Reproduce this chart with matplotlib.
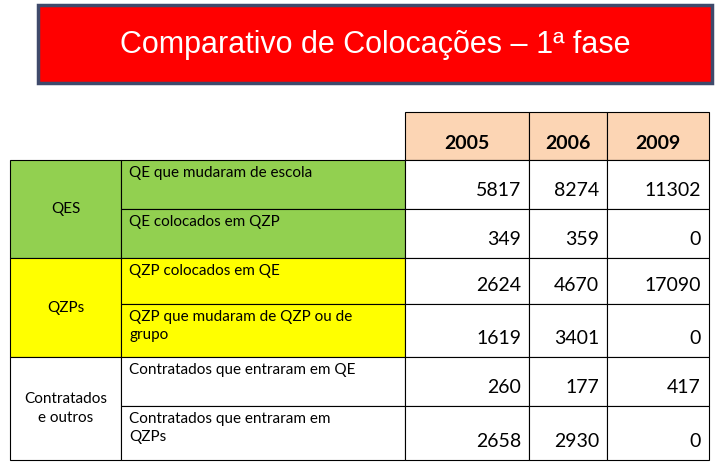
import matplotlib.pyplot as plt
from matplotlib.patches import Rectangle

years = ["2005", "2006", "2009"]
groups = ["QES", "QZPs", "Contratados\ne outros"]
group_colors = ["#92D050", "#FFFF00", "#FFFFFF"]
rows = [
    "QE que mudaram de escola",
    "QE colocados em QZP",
    "QZP colocados em QE",
    "QZP que mudaram de QZP ou de\ngrupo",
    "Contratados que entraram em QE",
    "Contratados que entraram em\nQZPs",
]
values = [
    [5817, 8274, 11302],
    [349, 359, 0],
    [2624, 4670, 17090],
    [1619, 3401, 0],
    [260, 177, 417],
    [2658, 2930, 0],
]

fig = plt.figure(figsize=(7.22, 4.65), dpi=100)
ax = fig.add_axes([0, 0, 1, 1])
ax.set_xlim(0, 722)
ax.set_ylim(465, 0)
ax.axis("off")

# title box
ax.add_patch(Rectangle((38, 5), 674, 78, facecolor="#FF0000", edgecolor="#3F4A6B", lw=2.5))
ax.text(375, 45, "Comparativo de Colocações – 1ª fase", color="white", fontsize=22,
        ha="center", va="center", family="Liberation Sans")

cols = [10, 121, 405, 529, 607, 709]
row_y = [112, 160, 209, 258, 304, 357, 406, 460]
font = "Lato"

# header
for j, y in enumerate(years):
    x0, x1 = cols[j + 2], cols[j + 3]
    ax.add_patch(Rectangle((x0, row_y[0]), x1 - x0, row_y[1] - row_y[0],
                           facecolor="#FCD5B4", edgecolor="black", lw=0.8))
    ax.text((x0 + x1) / 2, 143, y, ha="center", va="center", fontsize=14,
            fontweight="bold", family=font)

for g in range(3):
    y0, y1 = row_y[1 + 2 * g], row_y[3 + 2 * g]
    ax.add_patch(Rectangle((cols[0], y0), cols[1] - cols[0], y1 - y0,
                           facecolor=group_colors[g], edgecolor="black", lw=0.8))
    ax.text((cols[0] + cols[1]) / 2, (y0 + y1) / 2, groups[g], ha="center",
            va="center", fontsize=11, family=font, linespacing=1.5)
    for k in range(2):
        i = 2 * g + k
        ya, yb = row_y[1 + i], row_y[2 + i]
        ax.add_patch(Rectangle((cols[1], ya), cols[2] - cols[1], yb - ya,
                               facecolor=group_colors[g], edgecolor="black", lw=0.8))
        ax.text(cols[1] + 8, ya + 6, rows[i], ha="left", va="top", fontsize=11,
                family=font, linespacing=1.4)
        for j in range(3):
            x0, x1 = cols[j + 2], cols[j + 3]
            ax.add_patch(Rectangle((x0, ya), x1 - x0, yb - ya, facecolor="white",
                                   edgecolor="black", lw=0.8))
            ax.text(x1 - 8, yb - 10, str(values[i][j]), ha="right", va="bottom",
                    fontsize=14, family=font)

fig.savefig("out.png", dpi=100)
